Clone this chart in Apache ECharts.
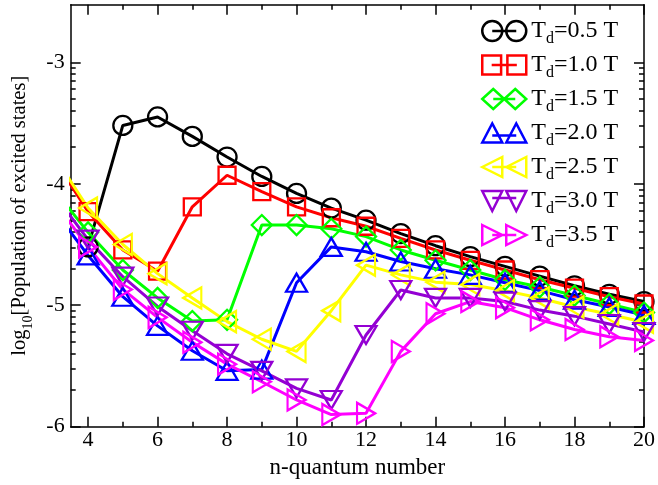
<!DOCTYPE html>
<html>
<head>
<meta charset="utf-8">
<script src="https://cdn.jsdelivr.net/npm/echarts@6/dist/echarts.min.js"></script>
<style>html,body{margin:0;padding:0;background:#fff}#c{width:658px;height:485px}</style>
</head>
<body>
<div id="c"></div>
<script>
var nValues = [3,4,5,6,7,8,9,10,11,12,13,14,15,16,17,18,19,20];
var td05 = [null, -4.52, -3.52, -3.45, -3.61, -3.78, -3.94, -4.08, -4.20, -4.30, -4.41, -4.51, -4.60, -4.68, -4.76, -4.84, -4.91, -4.97];
var td10 = [-3.79, -4.23, -4.545, -4.72, -4.19, -3.93, -4.065, -4.19, -4.28, -4.35, -4.45, -4.545, -4.63, -4.71, -4.79, -4.86, -4.93, -4.99];
var td15 = [-4.04, -4.40, -4.71, -4.94, -5.13, -5.12, -4.34, -4.34, -4.37, -4.435, -4.545, -4.63, -4.71, -4.79, -4.85, -4.92, -4.99, -5.06];
var td20 = [-4.21, -4.59, -4.93, -5.17, -5.375, -5.54, -5.53, -4.815, -4.52, -4.56, -4.64, -4.70, -4.75, -4.815, -4.88, -4.955, -5.015, -5.08];
var td25 = [-3.76, -4.20, -4.50, -4.74, -4.94, -5.135, -5.28, -5.38, -5.045, -4.67, -4.75, -4.81, -4.83, -4.88, -4.94, -5.015, -5.075, -5.14];
var td30 = [-4.08, -4.46, -4.765, -5.01, -5.21, -5.40, -5.54, -5.685, -5.78, -5.245, -4.875, -4.94, -4.94, -4.97, -5.04, -5.09, -5.155, -5.22];
var td35 = [-4.14, -4.52, -4.87, -5.10, -5.305, -5.485, -5.63, -5.78, -5.90, -5.89, -5.38, -5.07, -4.97, -5.02, -5.12, -5.20, -5.26, -5.29];
var seriesNames = ['T_d=0.5 T','T_d=1.0 T','T_d=1.5 T','T_d=2.0 T','T_d=2.5 T','T_d=3.0 T','T_d=3.5 T'];
var xMajorTicks = [4,6,8,10,12,14,16,18,20];
var xMinorTicks = [5,7,9,11,13,15,17,19];
var yMajorTicks = [-6,-5,-4,-3];
var xTitle = 'n-quantum number';

var allData = [td05, td10, td15, td20, td25, td30, td35];
var colors = ['#000000','#ff0000','#00ff00','#0000ff','#ffff00','#9400d3','#ff00ff'];
var symbols = ['circle','rect','diamond','triangle','triangle','triangle','triangle'];
var rotations = [0,0,0,0,90,180,-90];
var symSizes = [19,17,20,[21,18],[21,18],[21,18],[21,18]];
var legendIcons = [
  'path://M0,10A10,10,0,1,1,20,10A10,10,0,1,1,0,10ZM24,10A10,10,0,1,1,44,10A10,10,0,1,1,24,10ZM10,10H34',
  'path://M1,1H19V19H1ZM25,1H43V19H25ZM10,10H34',
  'path://M0,10L11,0L22,10L11,20ZM22,10L33,0L44,10L33,20ZM11,10H33',
  'path://M0,20L10,1L20,20ZM24,20L34,1L44,20ZM10,13H34',
  'path://M0,10L20,0L20,20ZM24,10L44,0L44,20ZM10,10H34',
  'path://M0,0L20,0L10,20ZM24,0L44,0L34,20ZM10,7H34',
  'path://M0,0L20,10L0,20ZM24,0L44,10L24,20ZM10,10H34'
];

// log-style minor tick positions within each decade
var yMinorTicks = [];
for (var d = -6; d < -3; d++) {
  for (var k = 2; k <= 9; k++) yMinorTicks.push(d + Math.log10(k));
}

var FONT = 'Liberation Serif';
var series = allData.map(function (arr, i) {
  return {
    name: seriesNames[i],
    type: 'line',
    xAxisIndex: 0, yAxisIndex: 0,
    data: nValues.map(function (n, j) { return [n, arr[j]]; }),
    symbol: symbols[i],
    symbolSize: symSizes[i],
    symbolRotate: rotations[i],
    showAllSymbol: true,
    clip: true,
    lineStyle: { color: colors[i], width: 3 },
    itemStyle: { color: 'transparent', borderColor: colors[i], borderWidth: 2.3 },
    emphasis: { disabled: true },
    animation: false
  };
});

function mkX(pos, ticks, len, labels, line) {
  return {
    type: 'value', position: pos, min: 3.5, max: 20,
    splitLine: { show: false },
    axisLine: { show: line, onZero: false, lineStyle: { color: '#000', width: 1.5 } },
    axisTick: { show: true, inside: true, length: len, customValues: ticks, lineStyle: { color: '#000', width: 1.5 } },
    axisLabel: labels ? { show: true, customValues: ticks, fontFamily: FONT, fontSize: 22, color: '#000', margin: 3 } : { show: false },
    name: labels ? xTitle : '',
    nameLocation: 'middle', nameGap: 26,
    nameTextStyle: { fontFamily: FONT, fontSize: 23, color: '#000' }
  };
}
function mkY(pos, ticks, len, labels, line) {
  return {
    type: 'value', position: pos, min: -6, max: -2.526,
    splitLine: { show: false },
    axisLine: { show: line, onZero: false, lineStyle: { color: '#000', width: 1.5 } },
    axisTick: { show: true, inside: true, length: len, customValues: ticks, lineStyle: { color: '#000', width: 1.5 } },
    axisLabel: labels ? { show: true, customValues: ticks, fontFamily: FONT, fontSize: 22, color: '#000', margin: 6 } : { show: false },
    name: labels ? '{a|log}{s|10}{a|[Population of excited states]}' : '',
    nameLocation: 'middle', nameGap: 33,
    nameTextStyle: {
      fontFamily: FONT, fontSize: 20.5, color: '#000',
      rich: {
        a: { fontFamily: FONT, fontSize: 20.5, color: '#000', lineHeight: 21, verticalAlign: 'top' },
        s: { fontFamily: FONT, fontSize: 14, color: '#000', lineHeight: 14, verticalAlign: 'top', padding: [12, 0, 0, 0] }
      }
    }
  };
}

var option = {
  backgroundColor: '#fff',
  animation: false,
  grid: { left: 70.7, right: 14, top: 4.7, bottom: 58.3, containLabel: false },
  xAxis: [
    mkX('bottom', xMajorTicks, 10, true, true),
    mkX('bottom', xMinorTicks, 5, false, false),
    mkX('top', xMajorTicks, 10, false, true),
    mkX('top', xMinorTicks, 5, false, false)
  ],
  yAxis: [
    mkY('left', yMajorTicks, 10, true, true),
    mkY('left', yMinorTicks, 5, false, false),
    mkY('right', yMajorTicks, 10, false, true),
    mkY('right', yMinorTicks, 5, false, false)
  ],
  legend: {
    orient: 'vertical', left: 481, top: 19, padding: 0,
    itemWidth: 44, itemHeight: 20, itemGap: 6,
    selectedMode: false,
    data: seriesNames.map(function (nm, i) {
      return { name: nm, icon: legendIcons[i], itemStyle: { color: 'transparent', borderColor: colors[i], borderWidth: 2.5 } };
    }),
    formatter: function (name) { return '{a|T}{b|d}{a|' + name.slice(3) + '}'; },
    textStyle: {
      fontFamily: FONT, fontSize: 24, color: '#000',
      rich: {
        a: { fontFamily: FONT, fontSize: 24, color: '#000', lineHeight: 24, verticalAlign: 'top' },
        b: { fontFamily: FONT, fontSize: 16, color: '#000', lineHeight: 16, verticalAlign: 'top', padding: [12, 0, 0, 0] }
      }
    }
  },
  series: series
};

var chart = echarts.init(document.getElementById('c'), null, { renderer: 'canvas' });
chart.setOption(option);
</script>
</body>
</html>
